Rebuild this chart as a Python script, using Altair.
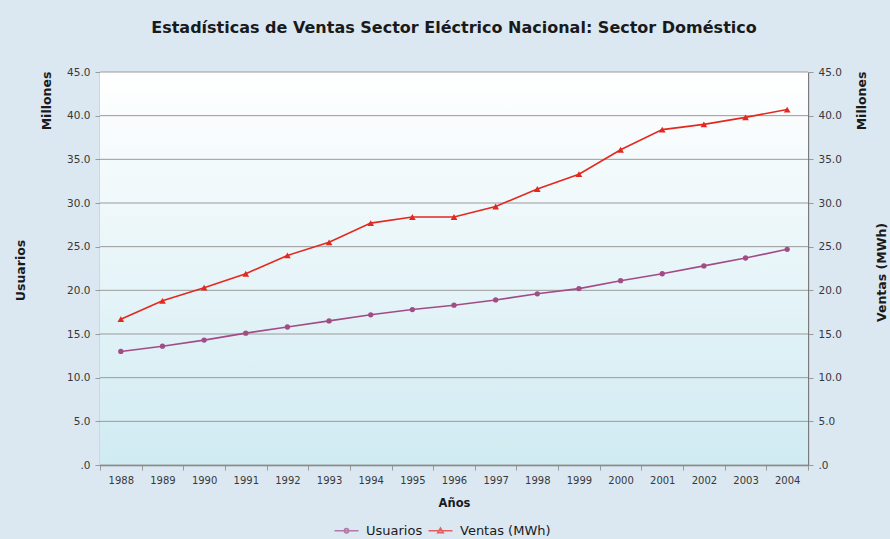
import altair as alt
import pandas as pd

# Annual series (millions)
years = ["1988", "1989", "1990", "1991", "1992", "1993", "1994", "1995", "1996",
         "1997", "1998", "1999", "2000", "2001", "2002", "2003", "2004"]
usuarios = [13.0, 13.6, 14.3, 15.1, 15.8, 16.5, 17.2, 17.8, 18.3,
            18.9, 19.6, 20.2, 21.1, 21.9, 22.8, 23.7, 24.7]
ventas = [16.7, 18.8, 20.3, 21.9, 24.0, 25.5, 27.7, 28.4, 28.4,
          29.6, 31.6, 33.3, 36.1, 38.4, 39.0, 39.8, 40.7]

series_names = ["Usuarios", "Ventas (MWh)"]
series_colors = ["#a24c86", "#e3291f"]
y_ticks = [0, 5, 10, 15, 20, 25, 30, 35, 40, 45]

W, H = 708, 393
FONT = "DejaVu Sans"
LABEL_EXPR = "datum.value == 0 ? '.0' : format(datum.value, '.1f')"
TEXT = "#1a1a1a"
LABEL = "#383838"

df = pd.DataFrame({
    "Año": years * 2,
    "Serie": [series_names[0]] * len(years) + [series_names[1]] * len(years),
    "Valor": usuarios + ventas,
})
base = alt.Chart(df)

x_enc = alt.X(
    "Año:N",
    sort=years,
    scale=alt.Scale(type="band", paddingInner=0, paddingOuter=0),
    axis=alt.Axis(
        title="Años", labelAngle=0, tickBand="extent", tickSize=5,
        labelPadding=5, labelFontSize=10, labelColor=LABEL,
        domainColor="#7a7a7a", domainWidth=1.3, tickColor="#9a9a9a",
        titleFontSize=11.5, titleFontWeight="bold", titleColor=TEXT,
        titleY=38, titleBaseline="middle",
    ),
)

y_scale = alt.Scale(domain=[0, 45], nice=False)

y_left = alt.Y(
    "Valor:Q", scale=y_scale,
    axis=alt.Axis(
        values=y_ticks, labelExpr=LABEL_EXPR, grid=False,
        tickSize=5, labelPadding=5, labelFontSize=10.5,
        labelColor=LABEL, domainColor="#7a7a7a", domainWidth=1.3, tickColor="#9a9a9a",
        title="Usuarios", titleAngle=270, titleX=-80, titleY=198,
        titleAlign="center", titleBaseline="middle", titleFontSize=12.5,
        titleFontWeight="bold", titleColor=TEXT,
    ),
)

y_right = alt.Y(
    "Valor:Q", scale=y_scale,
    axis=alt.Axis(
        orient="right", values=y_ticks, labelExpr=LABEL_EXPR, grid=False,
        tickSize=5, labelPadding=5, labelFontSize=10.5, labelColor=LABEL,
        domainColor="#7a7a7a", domainWidth=1.3, tickColor="#9a9a9a",
        title="Ventas (MWh)", titleAngle=270, titleX=73, titleY=200,
        titleAlign="center", titleBaseline="middle", titleFontSize=12.5,
        titleFontWeight="bold", titleColor=TEXT,
    ),
)

# Plot-area background with a white-to-cyan vertical gradient
bg = alt.Chart(pd.DataFrame({"k": [0]})).mark_rect(
    fill=alt.Gradient(
        gradient="linear",
        stops=[alt.GradientStop(color="#ffffff", offset=0),
               alt.GradientStop(color="#d0ebf2", offset=1)],
        x1=0, x2=0, y1=0, y2=1,
    )
).encode(x=alt.value(0), x2=alt.value(W), y=alt.value(0), y2=alt.value(H))

# Horizontal gridlines at each tick value
grid = alt.Chart(pd.DataFrame({"Valor": y_ticks})).mark_rule(
    color="#9a9a9a", strokeWidth=1
).encode(y=y_left)

u_data = base.transform_filter(alt.datum.Serie == series_names[0])
v_data = base.transform_filter(alt.datum.Serie == series_names[1])

u_line = u_data.mark_line(strokeWidth=1.6, color=series_colors[0]).encode(x=x_enc, y=y_left)
u_pts = u_data.mark_point(shape="circle", filled=True, size=28, opacity=1,
                          color=series_colors[0]).encode(x=x_enc, y=y_left)
left = alt.layer(grid, u_line, u_pts)

v_line = v_data.mark_line(strokeWidth=1.6, color=series_colors[1]).encode(x=x_enc, y=y_right)
v_pts = v_data.mark_point(shape="triangle-up", filled=True, size=45, opacity=1,
                          color=series_colors[1]).encode(x=x_enc, y=y_right)
right = alt.layer(v_line, v_pts)

# Legend entries: line segment with its marker in the middle
legend_paths = [
    "M-1.6,0H1.6M-0.28,0A0.28,0.28,0,1,0,0.28,0A0.28,0.28,0,1,0,-0.28,0Z",
    "M-1.6,0H1.6M0,-0.36L0.36,0.26H-0.36Z",
]
legend_props = dict(
    title=None, orient="none", direction="horizontal",
    legendX=238, legendY=450, symbolSize=225, symbolStrokeWidth=1.6,
    labelOffset=11, columnPadding=2, labelFontSize=13,
    labelColor=TEXT, labelFont=FONT,
)
legend_layer = base.transform_filter("false").mark_point(
    filled=False, strokeWidth=1.6
).encode(
    color=alt.Color("Serie:N",
                    scale=alt.Scale(domain=series_names, range=series_colors),
                    legend=alt.Legend(**legend_props)),
    shape=alt.Shape("Serie:N",
                    scale=alt.Scale(domain=series_names, range=legend_paths),
                    legend=alt.Legend(**legend_props)),
)

# Unit captions beside each value axis
unit_df = pd.DataFrame({"t": ["Millones"]})
unit_style = dict(angle=270, font=FONT, fontSize=12.5, fontWeight="bold",
                  color=TEXT, align="center", baseline="middle")
unit_left = alt.Chart(unit_df).mark_text(**unit_style).encode(
    text="t:N", x=alt.value(-53), y=alt.value(29))
unit_right = alt.Chart(unit_df).mark_text(**unit_style).encode(
    text="t:N", x=alt.value(762), y=alt.value(29))

chart = alt.layer(bg, left, right, legend_layer, unit_left, unit_right).resolve_scale(
    y="independent"
).properties(
    width=W, height=H,
    title=alt.TitleParams(
        "Estadísticas de Ventas Sector Eléctrico Nacional: Sector Doméstico",
        anchor="middle", fontSize=16, fontWeight="bold", font=FONT,
        color=TEXT, offset=31,
    ),
    autosize=alt.AutoSizeParams(type="none"),
    padding={"left": 100, "top": 72, "right": 82, "bottom": 74},
    background="#dbe8f2",
).configure_view(
    stroke=None,
).configure_axis(
    labelFont=FONT, titleFont=FONT,
)

chart.save("out.html", embed_options={"renderer": "svg", "actions": False})
